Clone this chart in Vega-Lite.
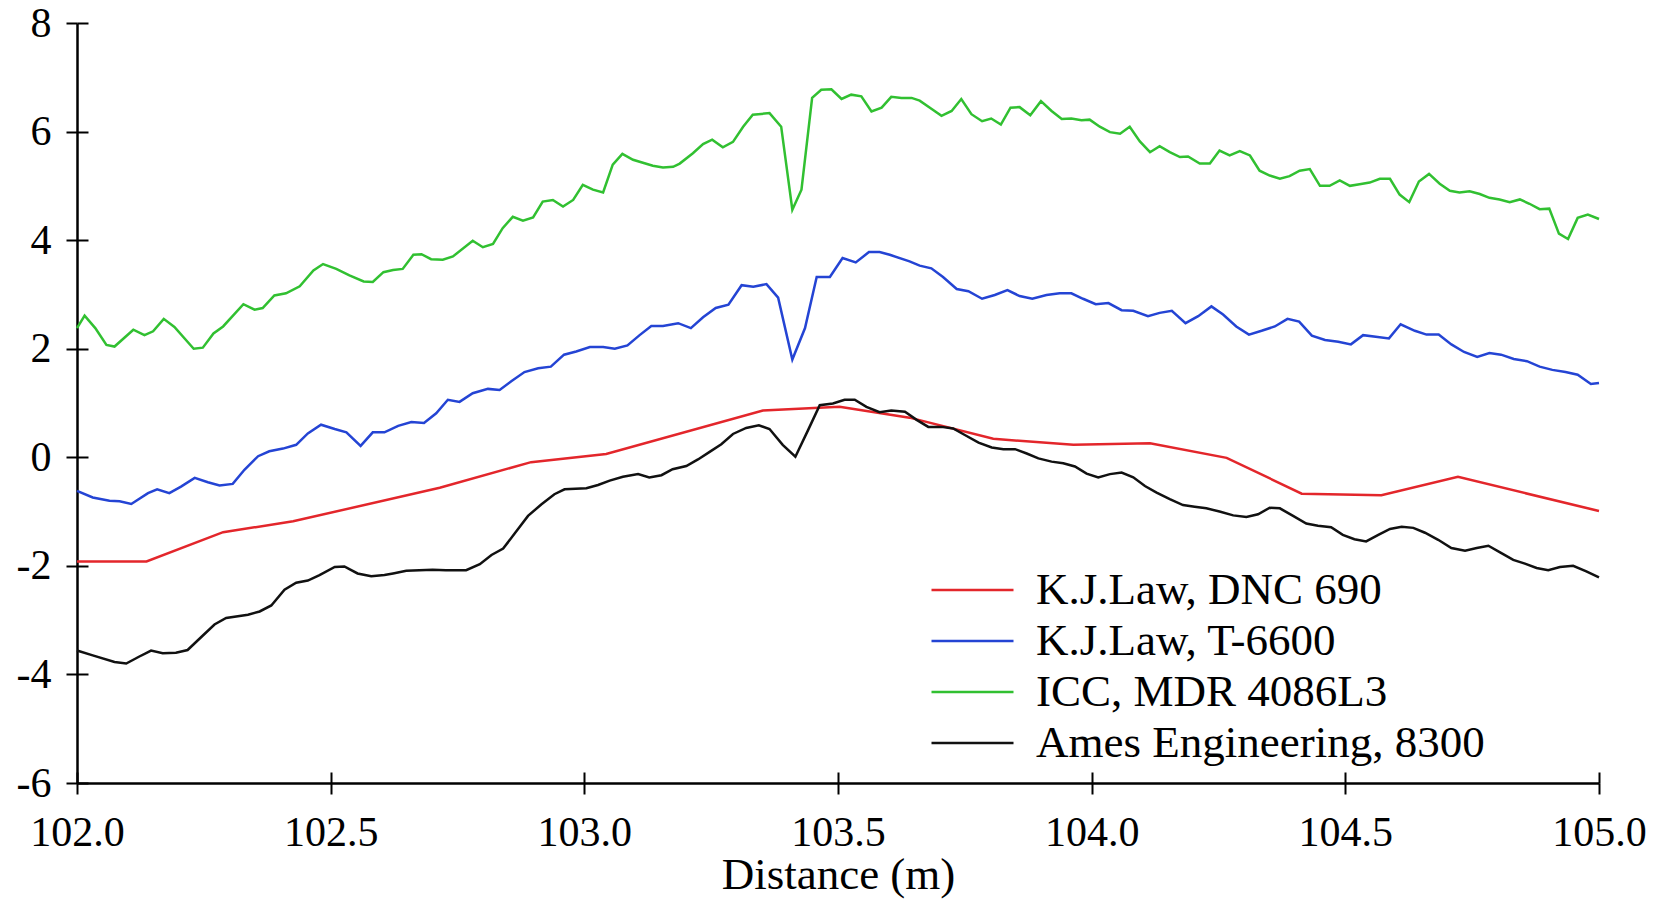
{
  "$schema": "https://vega.github.io/schema/vega-lite/v6.json",
  "width": 1522,
  "height": 760,
  "autosize": "none",
  "padding": {"left": 77, "top": 23, "right": 66, "bottom": 116},
  "background": "white",
  "config": {"view": {"stroke": null}, "font": "Liberation Serif"},
  "datasets": {
    "green": [
      {"d":102.000,"v":2.38},{"d":102.015,"v":2.61},{"d":102.036,"v":2.38},{"d":102.058,"v":2.07},{"d":102.074,"v":2.04},
      {"d":102.111,"v":2.35},{"d":102.133,"v":2.25},{"d":102.150,"v":2.32},{"d":102.171,"v":2.55},{"d":102.192,"v":2.40},
      {"d":102.230,"v":2.00},{"d":102.248,"v":2.02},{"d":102.269,"v":2.28},{"d":102.288,"v":2.41},{"d":102.328,"v":2.82},
      {"d":102.350,"v":2.72},{"d":102.366,"v":2.75},{"d":102.389,"v":2.98},{"d":102.412,"v":3.02},{"d":102.439,"v":3.15},
      {"d":102.466,"v":3.44},{"d":102.485,"v":3.56},{"d":102.511,"v":3.47},{"d":102.537,"v":3.35},{"d":102.565,"v":3.24},
      {"d":102.583,"v":3.23},{"d":102.604,"v":3.41},{"d":102.623,"v":3.45},{"d":102.642,"v":3.47},{"d":102.663,"v":3.73},
      {"d":102.679,"v":3.74},{"d":102.698,"v":3.65},{"d":102.721,"v":3.64},{"d":102.741,"v":3.70},{"d":102.780,"v":3.99},
      {"d":102.800,"v":3.87},{"d":102.820,"v":3.93},{"d":102.839,"v":4.22},{"d":102.859,"v":4.43},{"d":102.879,"v":4.36},
      {"d":102.899,"v":4.42},{"d":102.918,"v":4.71},{"d":102.938,"v":4.74},{"d":102.958,"v":4.62},{"d":102.978,"v":4.74},
      {"d":102.997,"v":5.02},{"d":103.017,"v":4.93},{"d":103.037,"v":4.88},{"d":103.056,"v":5.39},{"d":103.075,"v":5.59},
      {"d":103.096,"v":5.48},{"d":103.135,"v":5.37},{"d":103.155,"v":5.34},{"d":103.175,"v":5.35},{"d":103.188,"v":5.41},
      {"d":103.214,"v":5.60},{"d":103.234,"v":5.77},{"d":103.252,"v":5.85},{"d":103.273,"v":5.71},{"d":103.293,"v":5.81},
      {"d":103.313,"v":6.09},{"d":103.332,"v":6.31},{"d":103.365,"v":6.34},{"d":103.388,"v":6.09},{"d":103.410,"v":4.56},
      {"d":103.428,"v":4.93},{"d":103.449,"v":6.62},{"d":103.467,"v":6.77},{"d":103.487,"v":6.78},{"d":103.507,"v":6.60},
      {"d":103.526,"v":6.68},{"d":103.546,"v":6.65},{"d":103.566,"v":6.37},{"d":103.586,"v":6.44},{"d":103.605,"v":6.64},
      {"d":103.625,"v":6.62},{"d":103.645,"v":6.62},{"d":103.661,"v":6.57},{"d":103.684,"v":6.42},{"d":103.704,"v":6.29},
      {"d":103.724,"v":6.38},{"d":103.743,"v":6.60},{"d":103.763,"v":6.32},{"d":103.784,"v":6.19},{"d":103.802,"v":6.24},
      {"d":103.821,"v":6.13},{"d":103.840,"v":6.44},{"d":103.858,"v":6.45},{"d":103.879,"v":6.30},{"d":103.900,"v":6.56},
      {"d":103.921,"v":6.38},{"d":103.941,"v":6.23},{"d":103.960,"v":6.24},{"d":103.980,"v":6.21},{"d":103.996,"v":6.22},
      {"d":104.016,"v":6.09},{"d":104.036,"v":5.99},{"d":104.056,"v":5.96},{"d":104.075,"v":6.09},{"d":104.095,"v":5.82},
      {"d":104.115,"v":5.62},{"d":104.134,"v":5.73},{"d":104.154,"v":5.62},{"d":104.174,"v":5.53},{"d":104.190,"v":5.54},
      {"d":104.213,"v":5.41},{"d":104.233,"v":5.41},{"d":104.252,"v":5.65},{"d":104.272,"v":5.56},{"d":104.292,"v":5.64},
      {"d":104.312,"v":5.56},{"d":104.331,"v":5.28},{"d":104.351,"v":5.19},{"d":104.371,"v":5.13},{"d":104.390,"v":5.18},
      {"d":104.410,"v":5.28},{"d":104.430,"v":5.31},{"d":104.450,"v":5.00},{"d":104.469,"v":5.00},{"d":104.489,"v":5.10},
      {"d":104.509,"v":5.00},{"d":104.528,"v":5.03},{"d":104.548,"v":5.06},{"d":104.568,"v":5.13},{"d":104.588,"v":5.13},
      {"d":104.607,"v":4.84},{"d":104.626,"v":4.70},{"d":104.645,"v":5.08},{"d":104.665,"v":5.22},{"d":104.686,"v":5.04},
      {"d":104.706,"v":4.91},{"d":104.725,"v":4.88},{"d":104.745,"v":4.90},{"d":104.765,"v":4.85},{"d":104.784,"v":4.78},
      {"d":104.804,"v":4.75},{"d":104.824,"v":4.70},{"d":104.844,"v":4.75},{"d":104.863,"v":4.67},{"d":104.883,"v":4.57},
      {"d":104.902,"v":4.58},{"d":104.921,"v":4.12},{"d":104.939,"v":4.02},{"d":104.958,"v":4.41},{"d":104.978,"v":4.47},
      {"d":105.000,"v":4.39}
    ],
    "blue": [
      {"d":102.000,"v":-0.62},{"d":102.031,"v":-0.74},{"d":102.064,"v":-0.80},{"d":102.084,"v":-0.81},{"d":102.107,"v":-0.86},
      {"d":102.140,"v":-0.66},{"d":102.158,"v":-0.59},{"d":102.182,"v":-0.66},{"d":102.205,"v":-0.54},{"d":102.232,"v":-0.38},
      {"d":102.258,"v":-0.46},{"d":102.281,"v":-0.52},{"d":102.307,"v":-0.49},{"d":102.330,"v":-0.23},{"d":102.357,"v":0.02},
      {"d":102.379,"v":0.11},{"d":102.406,"v":0.16},{"d":102.432,"v":0.23},{"d":102.455,"v":0.44},{"d":102.481,"v":0.60},
      {"d":102.508,"v":0.52},{"d":102.531,"v":0.46},{"d":102.559,"v":0.21},{"d":102.583,"v":0.46},{"d":102.606,"v":0.46},
      {"d":102.633,"v":0.58},{"d":102.659,"v":0.65},{"d":102.684,"v":0.63},{"d":102.708,"v":0.81},{"d":102.731,"v":1.06},
      {"d":102.754,"v":1.02},{"d":102.780,"v":1.18},{"d":102.810,"v":1.26},{"d":102.833,"v":1.24},{"d":102.856,"v":1.40},
      {"d":102.882,"v":1.57},{"d":102.909,"v":1.64},{"d":102.934,"v":1.67},{"d":102.960,"v":1.89},{"d":102.984,"v":1.95},
      {"d":103.011,"v":2.03},{"d":103.037,"v":2.03},{"d":103.060,"v":2.00},{"d":103.085,"v":2.06},{"d":103.109,"v":2.25},
      {"d":103.132,"v":2.42},{"d":103.155,"v":2.42},{"d":103.185,"v":2.47},{"d":103.210,"v":2.38},{"d":103.234,"v":2.58},
      {"d":103.259,"v":2.75},{"d":103.284,"v":2.81},{"d":103.310,"v":3.17},{"d":103.333,"v":3.14},{"d":103.359,"v":3.19},
      {"d":103.382,"v":2.94},{"d":103.410,"v":1.80},{"d":103.435,"v":2.38},{"d":103.458,"v":3.32},{"d":103.484,"v":3.32},
      {"d":103.509,"v":3.67},{"d":103.535,"v":3.59},{"d":103.561,"v":3.78},{"d":103.582,"v":3.78},{"d":103.602,"v":3.73},
      {"d":103.641,"v":3.61},{"d":103.661,"v":3.53},{"d":103.684,"v":3.48},{"d":103.707,"v":3.32},{"d":103.734,"v":3.10},
      {"d":103.757,"v":3.06},{"d":103.784,"v":2.92},{"d":103.809,"v":2.99},{"d":103.834,"v":3.08},{"d":103.858,"v":2.97},
      {"d":103.883,"v":2.92},{"d":103.911,"v":2.99},{"d":103.937,"v":3.02},{"d":103.960,"v":3.02},{"d":103.983,"v":2.92},
      {"d":104.008,"v":2.82},{"d":104.033,"v":2.84},{"d":104.059,"v":2.71},{"d":104.082,"v":2.70},{"d":104.111,"v":2.60},
      {"d":104.134,"v":2.66},{"d":104.158,"v":2.70},{"d":104.185,"v":2.47},{"d":104.210,"v":2.60},{"d":104.236,"v":2.78},
      {"d":104.259,"v":2.63},{"d":104.285,"v":2.41},{"d":104.310,"v":2.26},{"d":104.335,"v":2.33},{"d":104.361,"v":2.41},
      {"d":104.386,"v":2.55},{"d":104.409,"v":2.50},{"d":104.434,"v":2.24},{"d":104.460,"v":2.16},{"d":104.486,"v":2.13},
      {"d":104.511,"v":2.08},{"d":104.535,"v":2.25},{"d":104.560,"v":2.22},{"d":104.586,"v":2.19},{"d":104.609,"v":2.45},
      {"d":104.637,"v":2.33},{"d":104.660,"v":2.26},{"d":104.684,"v":2.26},{"d":104.709,"v":2.08},{"d":104.734,"v":1.94},
      {"d":104.760,"v":1.85},{"d":104.784,"v":1.92},{"d":104.807,"v":1.89},{"d":104.832,"v":1.81},{"d":104.858,"v":1.77},
      {"d":104.883,"v":1.67},{"d":104.908,"v":1.61},{"d":104.934,"v":1.57},{"d":104.958,"v":1.52},{"d":104.984,"v":1.35},
      {"d":105.000,"v":1.37}
    ],
    "red": [
      {"d":102.000,"v":-1.92},{"d":102.137,"v":-1.92},{"d":102.288,"v":-1.38},{"d":102.426,"v":-1.18},{"d":102.715,"v":-0.56},
      {"d":102.895,"v":-0.09},{"d":103.043,"v":0.06},{"d":103.352,"v":0.86},{"d":103.503,"v":0.93},{"d":103.641,"v":0.73},
      {"d":103.806,"v":0.34},{"d":103.964,"v":0.23},{"d":104.115,"v":0.26},{"d":104.266,"v":-0.01},{"d":104.414,"v":-0.67},
      {"d":104.571,"v":-0.70},{"d":104.722,"v":-0.36},{"d":105.000,"v":-0.99}
    ],
    "black": [
      {"d":102.000,"v":-3.56},{"d":102.031,"v":-3.65},{"d":102.074,"v":-3.77},{"d":102.097,"v":-3.80},{"d":102.123,"v":-3.67},
      {"d":102.146,"v":-3.56},{"d":102.169,"v":-3.61},{"d":102.195,"v":-3.60},{"d":102.218,"v":-3.55},{"d":102.245,"v":-3.31},
      {"d":102.271,"v":-3.08},{"d":102.294,"v":-2.96},{"d":102.337,"v":-2.90},{"d":102.360,"v":-2.84},{"d":102.383,"v":-2.73},
      {"d":102.409,"v":-2.44},{"d":102.432,"v":-2.31},{"d":102.455,"v":-2.27},{"d":102.478,"v":-2.17},{"d":102.508,"v":-2.02},
      {"d":102.527,"v":-2.01},{"d":102.553,"v":-2.14},{"d":102.580,"v":-2.19},{"d":102.606,"v":-2.17},{"d":102.623,"v":-2.14},
      {"d":102.649,"v":-2.09},{"d":102.675,"v":-2.08},{"d":102.701,"v":-2.07},{"d":102.727,"v":-2.08},{"d":102.767,"v":-2.08},
      {"d":102.794,"v":-1.97},{"d":102.817,"v":-1.80},{"d":102.840,"v":-1.68},{"d":102.863,"v":-1.40},{"d":102.889,"v":-1.08},
      {"d":102.915,"v":-0.87},{"d":102.941,"v":-0.68},{"d":102.961,"v":-0.59},{"d":103.004,"v":-0.57},{"d":103.027,"v":-0.51},
      {"d":103.050,"v":-0.43},{"d":103.076,"v":-0.36},{"d":103.106,"v":-0.31},{"d":103.128,"v":-0.37},{"d":103.152,"v":-0.33},
      {"d":103.174,"v":-0.22},{"d":103.201,"v":-0.16},{"d":103.224,"v":-0.04},{"d":103.247,"v":0.10},{"d":103.270,"v":0.24},
      {"d":103.293,"v":0.43},{"d":103.319,"v":0.54},{"d":103.344,"v":0.59},{"d":103.365,"v":0.52},{"d":103.391,"v":0.23},
      {"d":103.416,"v":0.01},{"d":103.441,"v":0.50},{"d":103.464,"v":0.96},{"d":103.490,"v":0.99},{"d":103.513,"v":1.06},
      {"d":103.533,"v":1.06},{"d":103.556,"v":0.93},{"d":103.582,"v":0.83},{"d":103.605,"v":0.86},{"d":103.632,"v":0.84},
      {"d":103.655,"v":0.69},{"d":103.678,"v":0.56},{"d":103.704,"v":0.56},{"d":103.727,"v":0.53},{"d":103.750,"v":0.41},
      {"d":103.777,"v":0.27},{"d":103.803,"v":0.18},{"d":103.826,"v":0.15},{"d":103.849,"v":0.15},{"d":103.872,"v":0.07},
      {"d":103.895,"v":-0.02},{"d":103.921,"v":-0.08},{"d":103.944,"v":-0.11},{"d":103.967,"v":-0.17},{"d":103.990,"v":-0.30},
      {"d":104.013,"v":-0.37},{"d":104.036,"v":-0.31},{"d":104.059,"v":-0.28},{"d":104.082,"v":-0.37},{"d":104.105,"v":-0.53},
      {"d":104.128,"v":-0.65},{"d":104.154,"v":-0.77},{"d":104.180,"v":-0.88},{"d":104.203,"v":-0.91},{"d":104.226,"v":-0.94},
      {"d":104.252,"v":-1.00},{"d":104.279,"v":-1.07},{"d":104.305,"v":-1.10},{"d":104.328,"v":-1.05},{"d":104.351,"v":-0.93},
      {"d":104.371,"v":-0.94},{"d":104.397,"v":-1.08},{"d":104.423,"v":-1.22},{"d":104.446,"v":-1.26},{"d":104.472,"v":-1.29},
      {"d":104.495,"v":-1.43},{"d":104.518,"v":-1.51},{"d":104.541,"v":-1.55},{"d":104.565,"v":-1.43},{"d":104.588,"v":-1.32},
      {"d":104.611,"v":-1.28},{"d":104.634,"v":-1.30},{"d":104.657,"v":-1.39},{"d":104.683,"v":-1.52},{"d":104.709,"v":-1.67},
      {"d":104.736,"v":-1.72},{"d":104.759,"v":-1.67},{"d":104.782,"v":-1.63},{"d":104.805,"v":-1.75},{"d":104.831,"v":-1.89},
      {"d":104.854,"v":-1.96},{"d":104.877,"v":-2.04},{"d":104.900,"v":-2.08},{"d":104.923,"v":-2.02},{"d":104.949,"v":-2.00},
      {"d":104.975,"v":-2.10},{"d":105.000,"v":-2.21}
    ]
  },
  "layer": [
    {
      "data": {"name": "green"},
      "mark": {"type": "line", "strokeWidth": 2.5},
      "encoding": {
        "x": {
          "field": "d", "type": "quantitative",
          "scale": {"domain": [102, 105], "zero": false, "nice": false},
          "axis": {
            "orient": "bottom",
            "values": [102, 102.5, 103, 103.5, 104, 104.5, 105],
            "format": ".1f",
            "title": "Distance (m)",
            "titleFont": "Liberation Serif", "titleFontSize": 45, "titleFontWeight": "normal", "titleColor": "black", "titlePadding": -1,
            "labelFont": "Liberation Serif", "labelFontSize": 42, "labelColor": "black", "labelPadding": 18,
            "labelFlush": false, "labelOverlap": false,
            "tickSize": 11, "tickWidth": 2, "tickColor": "black",
            "domainColor": "black", "domainWidth": 2.5,
            "grid": true, "gridColor": "black", "gridWidth": 2, "gridOpacity": 1, "gridDash": [0, 749, 11, 3000]
          }
        },
        "y": {
          "field": "v", "type": "quantitative",
          "scale": {"domain": [-6, 8], "zero": false, "nice": false},
          "axis": {
            "orient": "left",
            "values": [-6, -4, -2, 0, 2, 4, 6, 8],
            "labelExpr": "'' + datum.value",
            "title": null,
            "labelFont": "Liberation Serif", "labelFontSize": 42, "labelColor": "black", "labelPadding": 15,
            "labelFlush": false, "labelOverlap": false,
            "tickSize": 11, "tickWidth": 2, "tickColor": "black",
            "domainColor": "black", "domainWidth": 2.5,
            "grid": true, "gridColor": "black", "gridWidth": 2, "gridOpacity": 1, "gridDash": [11, 3000]
          }
        },
        "color": {
          "datum": "ICC, MDR 4086L3", "type": "nominal",
          "scale": {
            "domain": ["K.J.Law, DNC 690", "K.J.Law, T-6600", "ICC, MDR 4086L3", "Ames Engineering, 8300"],
            "range": ["#e3262b", "#2444d4", "#31c031", "#111111"]
          },
          "legend": {
            "orient": "none", "legendX": 853, "legendY": 545,
            "title": null, "padding": 0,
            "symbolType": "stroke", "symbolSize": 6724, "symbolStrokeWidth": 2.5,
            "labelFont": "Liberation Serif", "labelFontSize": 45, "labelColor": "black",
            "labelOffset": 21, "labelLimit": 0,
            "clipHeight": 44, "rowPadding": 6
          }
        }
      }
    },
    {
      "data": {"name": "blue"},
      "mark": {"type": "line", "strokeWidth": 2.5},
      "encoding": {
        "x": {"field": "d", "type": "quantitative"},
        "y": {"field": "v", "type": "quantitative"},
        "color": {"datum": "K.J.Law, T-6600", "type": "nominal"}
      }
    },
    {
      "data": {"name": "red"},
      "mark": {"type": "line", "strokeWidth": 2.5},
      "encoding": {
        "x": {"field": "d", "type": "quantitative"},
        "y": {"field": "v", "type": "quantitative"},
        "color": {"datum": "K.J.Law, DNC 690", "type": "nominal"}
      }
    },
    {
      "data": {"name": "black"},
      "mark": {"type": "line", "strokeWidth": 2.5},
      "encoding": {
        "x": {"field": "d", "type": "quantitative"},
        "y": {"field": "v", "type": "quantitative"},
        "color": {"datum": "Ames Engineering, 8300", "type": "nominal"}
      }
    }
  ]
}
